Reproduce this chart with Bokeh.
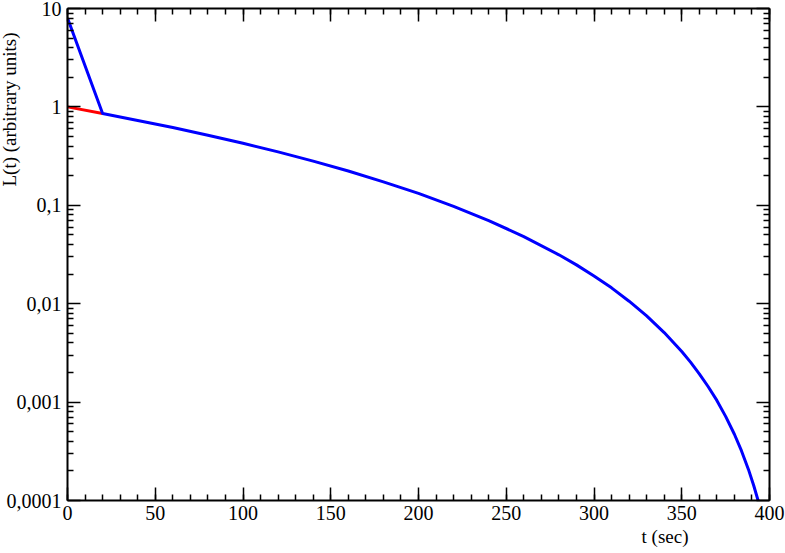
from bokeh.plotting import figure
from bokeh.models import Range1d, FixedTicker, LinearAxis, LogAxis, Title
from bokeh.embed import file_html
from bokeh.resources import INLINE

# ---- data ----
t_red = [0, 20]
L_red = [1.0, 0.857]

t_blue = [0, 20, 40, 60, 80, 100, 120, 140, 160, 180, 200, 220, 240, 260, 280,
          290, 300, 310, 320, 330, 340, 350, 355, 360, 365, 370, 375, 380, 384,
          388, 391, 393.5]
L_blue = [8.0, 0.857, 0.729, 0.617, 0.516, 0.427, 0.349, 0.281, 0.223, 0.173,
          0.132, 0.0977, 0.0700, 0.0481, 0.0314, 0.0248, 0.0191, 0.0145, 0.0106,
          0.00752, 0.00509, 0.00327, 0.00255, 0.00194, 0.00144, 0.00104,
          0.000716, 0.000471, 0.000321, 0.000207, 0.000142, 0.0001]

x_ticks = [0, 50, 100, 150, 200, 250, 300, 350, 400]
x_minor = list(range(0, 401, 10))
y_ticks = [0.0001, 0.001, 0.01, 0.1, 1, 10]
y_tick_labels = ["0,0001", "0,001", "0,01", "0,1", "1", "10"]
y_minor = [k * 10.0 ** e for e in range(-4, 1) for k in range(2, 10)]

x_title = "t (sec)"
y_title = "L(t) (arbitrary units)"

FONT = "Liberation Serif"

p = figure(width=785, height=553, output_backend="svg", toolbar_location=None,
           y_axis_type="log", x_range=Range1d(0, 400), y_range=Range1d(1e-4, 10),
           min_border_left=67, min_border_right=16, min_border_top=8,
           min_border_bottom=53)
p.xgrid.visible = False
p.ygrid.visible = False
p.outline_line_color = None
p.background_fill_color = "white"
p.border_fill_color = "white"

p.line(t_red, L_red, line_color="#ff0000", line_width=3)
p.line(t_blue, L_blue, line_color="#0000ff", line_width=3)

xt = FixedTicker(ticks=x_ticks, minor_ticks=x_minor)
yt = FixedTicker(ticks=y_ticks, minor_ticks=y_minor)

def style(ax, labels=True, ticks=None):
    ax.axis_line_color = "black"
    ax.axis_line_width = 2
    ax.major_tick_line_color = "black"
    ax.major_tick_line_width = 1.5
    ax.minor_tick_line_color = "black"
    ax.minor_tick_line_width = 1.5
    ax.major_tick_in = 13
    ax.major_tick_out = 0
    ax.minor_tick_in = 6
    ax.minor_tick_out = 0
    if labels:
        ax.major_label_text_font = FONT
        ax.major_label_text_font_size = "20px"
        ax.major_label_text_color = "black"
    else:
        ax.major_label_overrides = {v: "" for v in ticks}
        ax.major_label_text_font_size = "1px"
        ax.major_label_standoff = 0

bx = p.xaxis[0]
bx.ticker = xt
bx.major_label_standoff = 5
style(bx)

ly = p.yaxis[0]
ly.ticker = yt
ly.major_label_overrides = {v: s for v, s in zip(y_ticks, y_tick_labels)}
ly.major_label_standoff = 6
style(ly)

top = LinearAxis(ticker=xt)
style(top, labels=False, ticks=x_ticks)
p.add_layout(top, "above")
right = LogAxis(ticker=yt)
style(right, labels=False, ticks=y_ticks)
p.add_layout(right, "right")

p.add_layout(Title(text=x_title, align="right", offset=81, vertical_align="bottom",
                   standoff=3, text_font=FONT, text_font_size="19px",
                   text_font_style="normal", text_color="black"), "below")
p.add_layout(Title(text=y_title, align="right", offset=24, vertical_align="bottom",
                   standoff=-33, text_font=FONT, text_font_size="19px",
                   text_font_style="normal", text_color="black"), "left")

open("out.html", "w").write(file_html(p, INLINE))
